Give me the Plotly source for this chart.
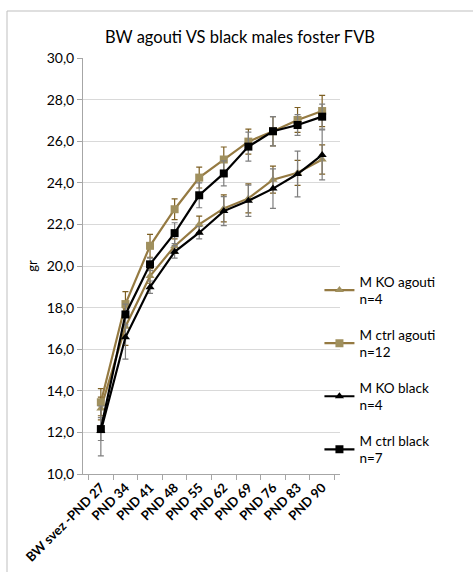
import plotly.graph_objects as go

# Time points (x categories)
days = ["BW svez -PND 27", "PND 34", "PND 41", "PND 48", "PND 55",
        "PND 62", "PND 69", "PND 76", "PND 83", "PND 90"]

# Mean body weight (g) and SEM per group
ko_agouti = [13.15, 17.08, 19.52, 20.95, 22.00, 22.77, 23.25, 24.15, 24.48, 25.12]
ko_agouti_err = [0.55, 0.90, 0.35, 0.35, 0.40, 0.65, 0.70, 0.65, 0.60, 0.70]

ctrl_agouti = [13.45, 18.17, 20.97, 22.73, 24.25, 25.12, 25.98, 26.48, 27.02, 27.45]
ctrl_agouti_err = [0.65, 0.60, 0.55, 0.50, 0.50, 0.60, 0.60, 0.70, 0.60, 0.75]

ko_black = [12.07, 16.57, 18.98, 20.68, 21.60, 22.64, 23.14, 23.72, 24.42, 25.34]
ko_black_err = [1.20, 1.05, 0.30, 0.30, 0.30, 0.70, 0.75, 0.95, 1.10, 1.20]

ctrl_black = [12.16, 17.67, 20.08, 21.58, 23.40, 24.45, 25.74, 26.48, 26.78, 27.18]
ctrl_black_err = [0.55, 0.50, 0.30, 0.50, 0.60, 0.60, 0.70, 0.70, 0.50, 0.60]

TAN_LINE = "#957a42"
TAN_MARK = "#a0905e"
TAN_ERR = "#7d5f22"
BLK = "#000000"
BLK_ERR = "#7f7f7f"

fig = go.Figure()

def add_series(name, group, y, err, line_c, mark_c, err_c, symbol):
    fig.add_trace(go.Scatter(
        x=days, y=y, name=name, legendgroup=group, mode="lines+markers",
        line=dict(color=line_c, width=2.2),
        marker=dict(symbol=symbol, size=8, color=mark_c),
        error_y=dict(type="data", array=err, visible=True,
                     color=err_c, thickness=1.2, width=3),
    ))

add_series("M KO agouti<br>n=4", "g1", ko_agouti, ko_agouti_err,
           TAN_LINE, TAN_MARK, TAN_ERR, "triangle-up")
add_series("M ctrl agouti<br>n=12", "g2", ctrl_agouti, ctrl_agouti_err,
           TAN_LINE, TAN_MARK, TAN_ERR, "square")
add_series("M KO black<br>n=4", "g3", ko_black, ko_black_err,
           BLK, BLK, BLK_ERR, "triangle-up")
add_series("M ctrl black<br>n=7", "g4", ctrl_black, ctrl_black_err,
           BLK, BLK, BLK_ERR, "square")

FONT = "Lato, 'Open Sans', sans-serif"

fig.update_layout(
    width=473, height=572,
    margin=dict(l=83, r=133, t=58, b=98),
    paper_bgcolor="white", plot_bgcolor="white",
    font=dict(family=FONT, size=12, color="#000000"),
    separators=",.",
    title=dict(text="BW agouti VS black males foster FVB",
               x=240 / 473, xanchor="center",
               y=1 - 37 / 572, yanchor="middle",
               font=dict(size=16.5, family=FONT)),
    showlegend=True,
    legend=dict(x=0.92, xanchor="left", y=0.50, yanchor="top",
                font=dict(size=13.5, family=FONT),
                tracegroupgap=15, itemwidth=30,
                bgcolor="rgba(0,0,0,0)"),
    shapes=[dict(type="rect", xref="paper", yref="paper",
                 x0=(7 - 83) / 257, x1=1.6, y0=-0.3, y1=(474 - 11) / 416,
                 line=dict(color="#bfbfbf", width=1), layer="below")],
)

fig.update_xaxes(
    type="category", tickangle=-45, tickson="boundaries",
    ticks="outside", ticklen=5, tickcolor="#a6a6a6",
    showline=True, linecolor="#a6a6a6", linewidth=1,
    showgrid=False, automargin=False,
    tickfont=dict(size=13, family=FONT, weight="bold"),
)
fig.update_yaxes(
    range=[10, 30], dtick=2, tickformat=".1f",
    ticks="outside", ticklen=5, tickcolor="#a6a6a6",
    showline=True, linecolor="#a6a6a6", linewidth=1,
    showgrid=True, gridcolor="#d9d9d9", gridwidth=1,
    zeroline=False, automargin=False,
    tickfont=dict(size=14, family=FONT),
    title=dict(text="gr", font=dict(size=13, family=FONT), standoff=6),
)

fig.write_html("out.html")
